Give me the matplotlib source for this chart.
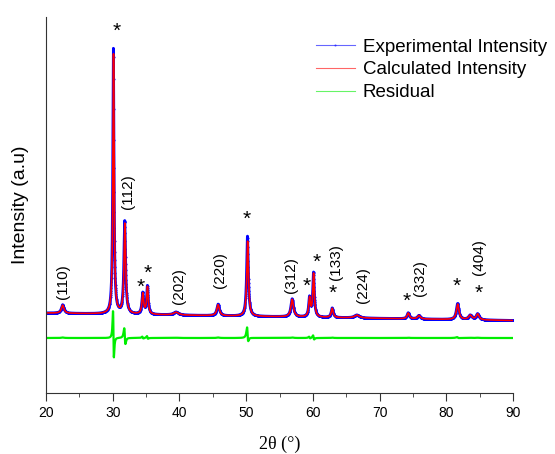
import numpy as np
import matplotlib
matplotlib.use("Agg")
import matplotlib.pyplot as plt

# peak list (2theta in degrees, heights in counts above background)
peak_pos = [22.5, 30.1, 31.8, 34.5, 35.2, 39.5, 45.8, 50.2, 56.9, 59.5, 60.1, 62.9, 66.6, 74.3, 75.9, 81.7, 83.6, 84.7]
exp_height = [170, 5300, 1850, 420, 560, 60, 230, 1600, 360, 380, 880, 190, 60, 120, 70, 320, 90, 120]
calc_height = [160, 5200, 1800, 410, 545, 55, 220, 1500, 350, 370, 865, 182, 57, 114, 67, 308, 86, 115]
peak_fwhm = [0.45, 0.22, 0.30, 0.30, 0.28, 0.9, 0.45, 0.30, 0.45, 0.30, 0.28, 0.35, 0.9, 0.40, 0.5, 0.45, 0.6, 0.5]
calc_shift = [0, 0.015, 0.02, 0.01, 0.01, 0, 0, 0.02, 0, 0.01, 0.01, 0, 0, 0, 0, 0.01, 0, 0]

bg_start = 1600
bg_end = 1450
residual_offset = 1100

hkl_text = ["(110)", "(112)", "(202)", "(220)", "(312)", "(133)", "(224)", "(332)", "(404)"]
hkl_x = [22.55, 32.3, 39.9, 46.1, 56.7, 63.5, 67.5, 76.1, 84.9]
hkl_y = [2220, 4020, 2140, 2460, 2360, 2620, 2160, 2300, 2720]
star_x = [30.6, 34.2, 35.3, 50.1, 59.1, 60.5, 62.9, 74.1, 81.6, 84.8]
star_y = [7230, 2120, 2400, 3470, 2140, 2620, 2000, 1840, 2140, 2000]

tt = np.arange(20, 90.01, 0.02)
bg = bg_start + (bg_end - bg_start) * (tt - 20) / 70


def profile(heights, shifts):
    y = np.zeros_like(tt)
    for p, h, w, s in zip(peak_pos, heights, peak_fwhm, shifts):
        g = (w / 2) ** 2
        y += h * g / ((tt - p - s) ** 2 + g)
    return y


exp_int = bg + profile(exp_height, [0] * len(peak_pos))
calc_int = bg + profile(calc_height, calc_shift)
resid = exp_int - calc_int + residual_offset

fig = plt.figure(figsize=(5.55, 4.54), dpi=100)
ax = fig.add_axes([46 / 555, 61 / 454, 467 / 555, 376 / 454])

ax.plot(tt, exp_int, color="#0000ff", lw=2.0, marker=".", ms=1, label="Experimental Intensity")
ax.plot(tt, calc_int, color="#ff0000", lw=1.2, label="Calculated Intensity")
ax.plot(tt, resid, color="#00ee00", lw=1.6, label="Residual")

for t, x, y in zip(hkl_text, hkl_x, hkl_y):
    ax.text(x, y, t, rotation=90, ha="center", va="center", fontsize=11, family="Liberation Sans")
for x, y in zip(star_x, star_y):
    ax.text(x, y, "*", ha="center", va="center", fontsize=15, family="Liberation Sans")

ax.set_xlim(20, 90)
ax.set_ylim(0, 7520)
ax.set_xticks(range(20, 91, 10))
ax.set_xticks(range(25, 90, 10), minor=True)
ax.set_yticks([])
ax.spines["top"].set_visible(False)
ax.spines["right"].set_visible(False)
ax.spines["left"].set_color("#333333")
ax.spines["bottom"].set_color("#333333")
ax.tick_params(axis="x", which="major", length=6, color="#333333", labelsize=10)
ax.tick_params(axis="x", which="minor", length=3, color="#333333")
for lb in ax.get_xticklabels():
    lb.set_family("Liberation Sans")

ax.set_xlabel("2θ (°)", family="Liberation Serif", fontsize=13, labelpad=11)
ax.set_ylabel("Intensity (a.u)", family="Liberation Sans", fontsize=14, labelpad=12)

leg = ax.legend(loc="upper left", bbox_to_anchor=(308 / 555, 1 - 31 / 454), bbox_transform=fig.transFigure,
                frameon=False, handlelength=2.1, handletextpad=0.43, labelspacing=0.3,
                prop={"family": "Liberation Sans", "size": 13.5}, borderaxespad=0)
for h in leg.get_lines():
    h.set_linewidth(0.8)
    h.set_alpha(0.6)

fig.savefig("out.png", dpi=100)
